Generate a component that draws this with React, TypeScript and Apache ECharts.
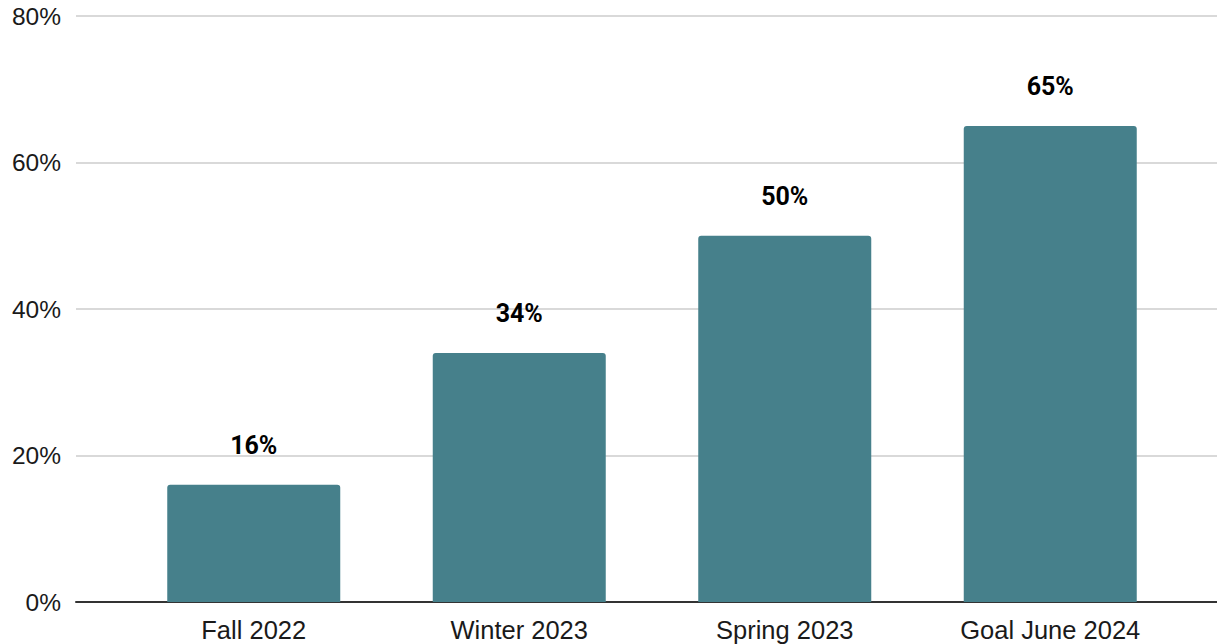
import React, { useEffect, useRef } from "react";
import * as echarts from "echarts";

const categories = ["Fall 2022", "Winter 2023", "Spring 2023", "Goal June 2024"];
const values = [16, 34, 50, 65];
const yTicks = [0, 20, 40, 60, 80];

export default function App() {
  const ref = useRef<HTMLDivElement>(null);
  useEffect(() => {
    document.body.style.margin = "0";
    const chart = echarts.init(ref.current!, null, { renderer: "svg" });
    chart.setOption({
      animation: false,
      grid: [
        { left: 121, width: 1062, top: 16, bottom: 42 },
        { left: 76, right: 0, top: 16, bottom: 42 },
      ],
      xAxis: [
        {
          type: "category",
          gridIndex: 0,
          data: categories,
          axisLine: { show: false },
          axisTick: { show: false },
          axisLabel: {
            margin: 15,
            fontSize: 25.5,
            fontFamily: "Liberation Sans",
            color: "#1a1a1a",
          },
        },
        {
          type: "value",
          gridIndex: 1,
          min: 0,
          max: 1,
          axisLine: { show: true, lineStyle: { color: "#333", width: 2 } },
          axisTick: { show: false },
          axisLabel: { show: false },
          splitLine: { show: false },
        },
      ],
      yAxis: [
        {
          type: "value",
          gridIndex: 0,
          min: yTicks[0],
          max: yTicks[yTicks.length - 1],
          interval: 20,
          show: false,
          splitLine: { show: false },
        },
        {
          type: "value",
          gridIndex: 1,
          min: yTicks[0],
          max: yTicks[yTicks.length - 1],
          interval: 20,
          axisLine: { show: false },
          axisTick: { show: false },
          axisLabel: {
            margin: 15,
            fontSize: 24.5,
            fontFamily: "Liberation Sans",
            color: "#1a1a1a",
            formatter: "{value}%",
          },
          splitLine: { show: true, lineStyle: { color: "#cccccc", width: 1.5 } },
        },
      ],
      series: [
        {
          type: "bar",
          xAxisIndex: 0,
          yAxisIndex: 0,
          data: values,
          barWidth: 173,
          itemStyle: { color: "#46808b", borderRadius: [3, 3, 0, 0] },
          label: {
            show: true,
            position: "top",
            distance: 27,
            formatter: "{c}%",
            fontFamily: "Roboto",
            fontWeight: "bold",
            fontSize: 25,
            color: "#000",
          },
          z: 3,
        },
      ],
    });
    return () => chart.dispose();
  }, []);
  return <div ref={ref} style={{ width: 1217, height: 644 }} />;
}
